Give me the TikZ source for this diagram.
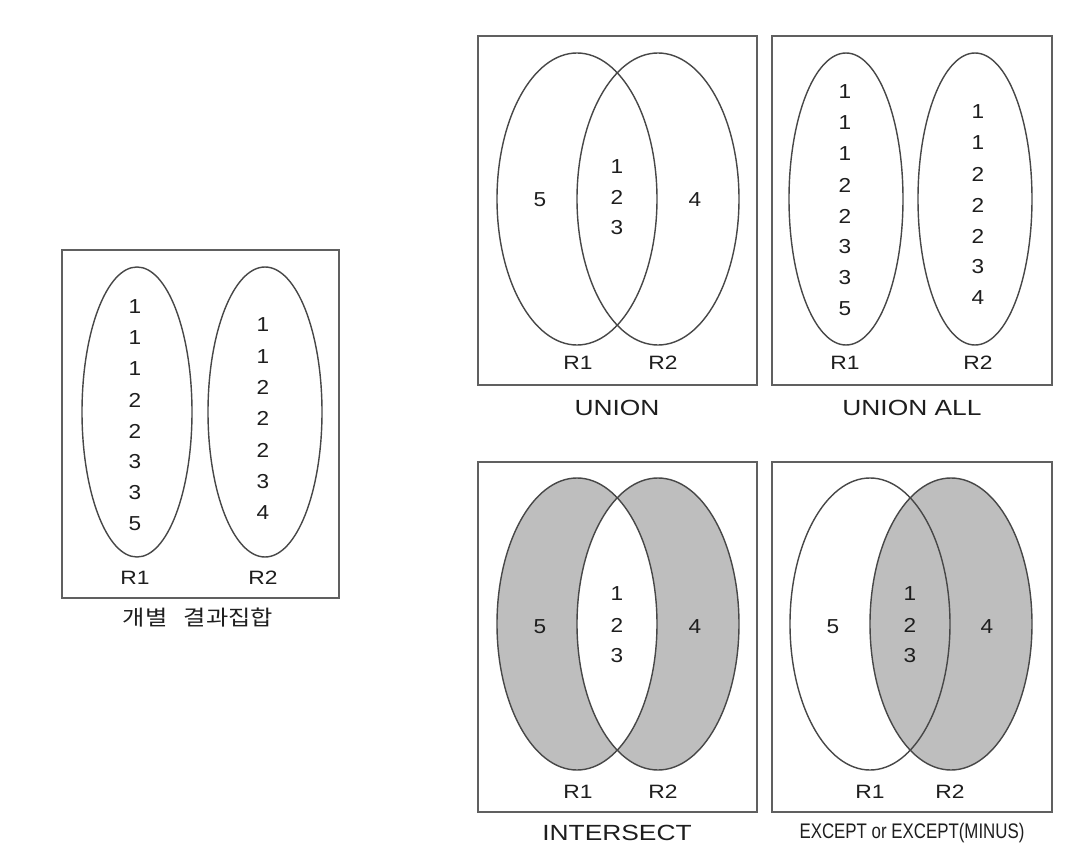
\documentclass[tikz,border=0pt]{standalone}
\usepackage{fontspec}
\setmainfont{Liberation Sans}
\newfontfamily\kofont{Noto Sans CJK KR}
\usetikzlibrary{positioning}
\definecolor{setgray}{RGB}{190,190,190}
\definecolor{ink}{RGB}{30,30,30}

\begin{document}
\begin{tikzpicture}[
  x=0.02cm, y=-0.02cm,
  panel/.style={draw=gray!75!black, line width=1pt},
  setline/.style={draw=black!72, line width=0.8pt},
  num/.style={font=\fontsize{11.5}{13}\selectfont, text=ink, inner sep=0pt, xscale=1.12},
  lbl/.style={font=\fontsize{11}{13}\selectfont, text=ink, inner sep=0pt, xscale=1.18},
  caption/.style={font=\fontsize{12.5}{14}\selectfont, text=ink, inner sep=0pt, xscale=1.2}
]
\useasboundingbox (0,0) rectangle (1083,855);

% separate result sets
\draw[panel] (62,250) rectangle (339,598);
\draw[setline] (137,412) ellipse [x radius=55, y radius=145];
\draw[setline] (265,412) ellipse [x radius=57, y radius=145];
\foreach \v [count=\i] in {1,1,1,2,2,3,3,5}
  \node[num] (sepA\i) at (135,{307+31*(\i-1)}) {\v};
\foreach \v [count=\i] in {1,1,2,2,2,3,4}
  \node[num] (sepB\i) at (263,{325+31.3*(\i-1)}) {\v};
\node[lbl] (sepR1) at (135,578) {R1};
\node[lbl] (sepR2) at (263,578) {R2};
\node[font=\kofont\fontsize{12}{14}\selectfont, text=ink, inner sep=0pt, xscale=1.15] (sepcap) at (198,618) {개별\ \ \ 결과집합};

% UNION
\draw[panel] (478,36) rectangle (757,385);
\draw[setline] (577,199) ellipse [x radius=80, y radius=146];
\draw[setline] (658,199) ellipse [x radius=81, y radius=146];
\node[num] (uni5) at (540,200) {5};
\node[num] (uni4) at (695,200) {4};
\foreach \v [count=\i] in {1,2,3}
  \node[num] (uniM\i) at (617,{167+30.5*(\i-1)}) {\v};
\node[lbl] (uniR1) at (578,363) {R1};
\node[lbl] (uniR2) at (663,363) {R2};
\node[caption] (unicap) at (617,408) {UNION};

% UNION ALL
\draw[panel] (772,36) rectangle (1052,385);
\draw[setline] (846,199) ellipse [x radius=57, y radius=146];
\draw[setline] (975,199) ellipse [x radius=57, y radius=146];
\foreach \v [count=\i] in {1,1,1,2,2,3,3,5}
  \node[num] (allA\i) at (845,{92+31*(\i-1)}) {\v};
\foreach \v [count=\i] in {1,1,2,2,2,3,4}
  \node[num] (allB\i) at (978,{112+31*(\i-1)}) {\v};
\node[lbl] (allR1) at (845,363) {R1};
\node[lbl] (allR2) at (978,363) {R2};
\node[caption] (allcap) at (912,408) {UNION ALL};

% INTERSECT
\draw[panel] (478,462) rectangle (757,812);
\fill[setgray, even odd rule] (577,624) ellipse [x radius=80, y radius=146]
  (658,624) ellipse [x radius=81, y radius=146];
\draw[setline] (577,624) ellipse [x radius=80, y radius=146];
\draw[setline] (658,624) ellipse [x radius=81, y radius=146];
\node[num] (int5) at (540,627) {5};
\node[num] (int4) at (695,627) {4};
\foreach \v [count=\i] in {1,2,3}
  \node[num] (intM\i) at (617,{594+31*(\i-1)}) {\v};
\node[lbl] (intR1) at (578,792) {R1};
\node[lbl] (intR2) at (663,792) {R2};
\node[caption] (intcap) at (617,833) {INTERSECT};

% EXCEPT
\draw[panel] (772,462) rectangle (1052,812);
\fill[setgray] (951,624) ellipse [x radius=81, y radius=146];
\draw[setline] (870,624) ellipse [x radius=80, y radius=146];
\draw[setline] (951,624) ellipse [x radius=81, y radius=146];
\node[num] (exc5) at (833,627) {5};
\node[num] (exc4) at (987,627) {4};
\foreach \v [count=\i] in {1,2,3}
  \node[num] (excM\i) at (910,{594+31*(\i-1)}) {\v};
\node[lbl] (excR1) at (870,792) {R1};
\node[lbl] (excR2) at (950,792) {R2};
\node[font=\fontsize{12}{14}\selectfont, text=ink, inner sep=0pt, xscale=0.8] (exccap) at (912,833) {EXCEPT or EXCEPT(MINUS)};
\end{tikzpicture}
\end{document}
